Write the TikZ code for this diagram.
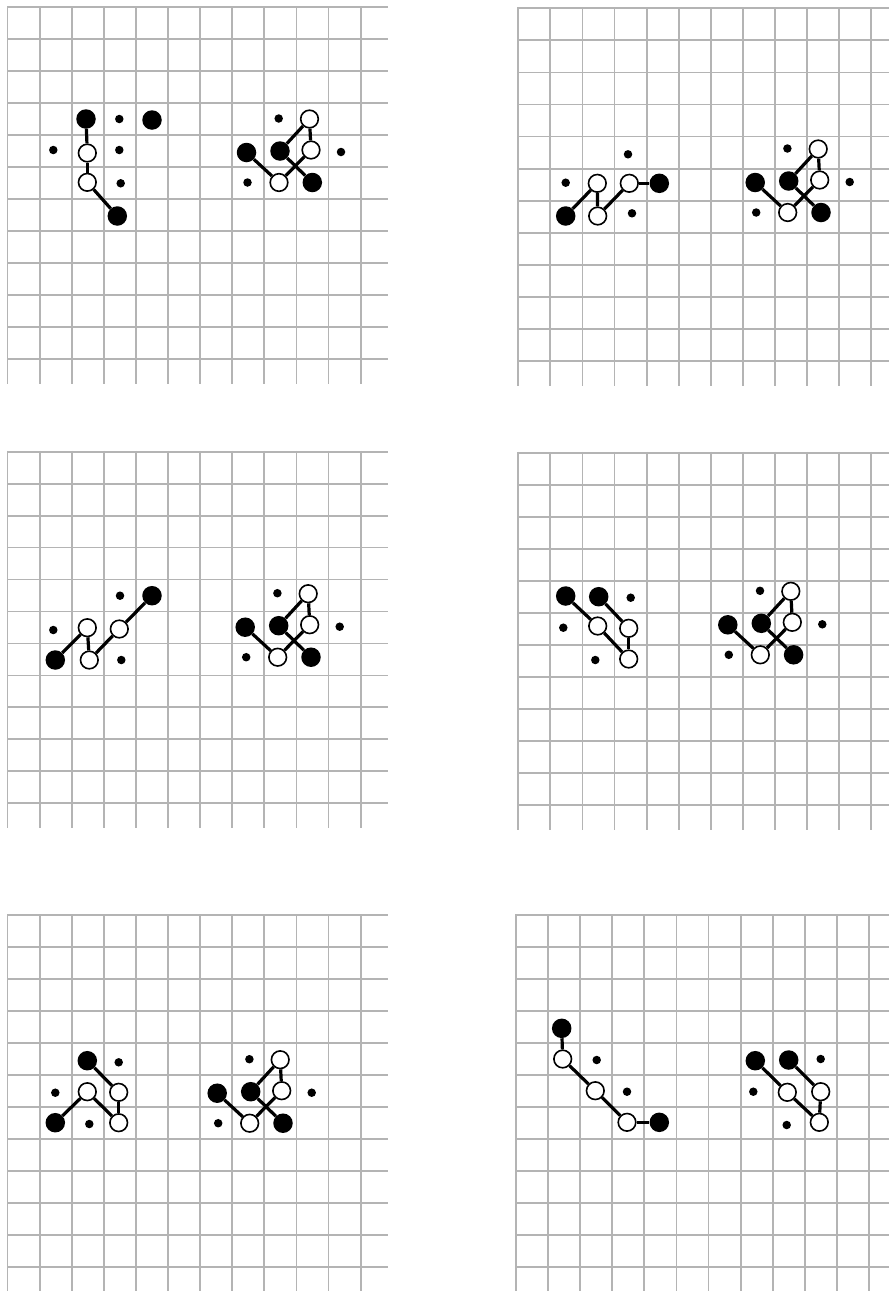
\documentclass[tikz,border=0pt]{standalone}
\definecolor{gridgray}{RGB}{180,180,180}
\newcommand\gridpanel[6]{%
  \foreach \i in {0,...,11} \draw[gline] ({#1+\i*#3},{#2-0.9}) -- ({#1+\i*#3},#6);
  \foreach \j in {0,...,11} \draw[gline] (#1,{#2+\j*#4}) -- (#5,{#2+\j*#4});
}
\tikzset{
  bk/.style={circle, fill=black, inner sep=0pt, minimum size=19.5pt},
  wh/.style={circle, draw=black, fill=white, line width=1.6pt, inner sep=0pt, minimum size=17.6pt},
  sd/.style={circle, fill=black, inner sep=0pt, minimum size=8.5pt},
  conn/.style={line width=3.2pt, draw=black},
  gline/.style={line width=1.8pt, draw=gridgray},
  rcl/.pic={
    \node[sd] (-d1) at (-1.3,-32.5) {};
    \node[wh] (-wt) at (29.5,-32) {};
    \node[bk] (-bl) at (-33.5,1.5) {};
    \node[bk] (-bm) at (0,0) {};
    \node[wh] (-wm) at (31,-1) {};
    \node[sd] (-dr) at (61,1) {};
    \node[sd] (-db) at (-32.5,31.5) {};
    \node[wh] (-wb) at (-1,31.5) {};
    \node[bk] (-bb) at (32.3,31.5) {};
    \draw[conn] (-bm) -- (-wt);
    \draw[conn] (-wt) -- (-wm);
    \draw[conn] (-bl) -- (-wb);
    \draw[conn] (-wb) -- (-wm);
    \draw[conn] (-bm) -- (-bb);
  }
}
\begin{document}
\begin{tikzpicture}[x=1pt,y=-1pt]
\useasboundingbox[fill=white] (0,0) rectangle (889,1291);

% grids
\gridpanel{7.5}{7}{32.1}{32.03}{387.5}{383.5}
\gridpanel{518.3}{8.3}{32.09}{32.06}{889}{385.5}
\gridpanel{7.5}{451.7}{32.1}{31.96}{387.5}{828}
\gridpanel{518.3}{452.7}{32.09}{32.0}{889}{830}
\gridpanel{7.5}{915}{32.1}{32.03}{387.5}{1291}
\gridpanel{516}{915}{32.09}{32.03}{889}{1291}

% panel 1, left cluster
\node[bk] (p1a) at (86,119) {};
\node[sd] (p1b) at (119.3,119) {};
\node[bk] (p1c) at (152,120) {};
\node[sd] (p1d) at (53.3,150) {};
\node[wh] (p1e) at (87.3,153) {};
\node[sd] (p1f) at (119.3,150) {};
\node[wh] (p1g) at (87.3,182.3) {};
\node[sd] (p1h) at (120.7,183.3) {};
\node[bk] (p1i) at (117.3,216) {};
\draw[conn] (p1a) -- (p1e);
\draw[conn] (p1e) -- (p1g);
\draw[conn] (p1g) -- (p1i);
\pic (p1r) at (280,151) {rcl};

% panel 2
\node[sd] (p2a) at (565.7,182.7) {};
\node[wh] (p2b) at (597.3,183.3) {};
\node[sd] (p2c) at (628,154.3) {};
\node[wh] (p2d) at (629.3,183.3) {};
\node[bk] (p2e) at (659.3,183.3) {};
\node[bk] (p2f) at (565.7,216) {};
\node[wh] (p2g) at (597.7,216) {};
\node[sd] (p2h) at (632,213.3) {};
\draw[conn] (p2f) -- (p2b);
\draw[conn] (p2b) -- (p2g);
\draw[conn] (p2g) -- (p2d);
\draw[conn] (p2d) -- (p2e);
\pic (p2r) at (788.7,181) {rcl};

% panel 3
\node[sd] (p3a) at (120,595.7) {};
\node[bk] (p3b) at (152,595.7) {};
\node[sd] (p3c) at (53.3,630) {};
\node[wh] (p3d) at (87.3,627.7) {};
\node[wh] (p3e) at (119.3,629) {};
\node[bk] (p3f) at (55.3,660) {};
\node[wh] (p3g) at (89.3,660) {};
\node[sd] (p3h) at (121.3,660) {};
\draw[conn] (p3f) -- (p3d);
\draw[conn] (p3d) -- (p3g);
\draw[conn] (p3g) -- (p3e);
\draw[conn] (p3e) -- (p3b);
\pic (p3r) at (278.7,625.7) {rcl};

% panel 4
\node[bk] (p4a) at (565.7,596) {};
\node[bk] (p4b) at (598.7,596.7) {};
\node[sd] (p4c) at (630.7,597.7) {};
\node[sd] (p4d) at (563.3,627.7) {};
\node[wh] (p4e) at (597.7,626) {};
\node[wh] (p4f) at (628.7,628.3) {};
\node[sd] (p4g) at (595.3,660) {};
\node[wh] (p4h) at (628.7,659) {};
\draw[conn] (p4a) -- (p4e);
\draw[conn] (p4b) -- (p4f);
\draw[conn] (p4e) -- (p4h);
\draw[conn] (p4f) -- (p4h);
\pic (p4r) at (761.3,623.3) {rcl};

% panel 5
\node[bk] (p5a) at (87.3,1060.7) {};
\node[sd] (p5b) at (118.7,1062.3) {};
\node[sd] (p5c) at (55.3,1092.7) {};
\node[wh] (p5d) at (87.3,1091.7) {};
\node[wh] (p5e) at (118.7,1092.3) {};
\node[bk] (p5f) at (55.3,1122.7) {};
\node[sd] (p5g) at (89.3,1124) {};
\node[wh] (p5h) at (118.7,1122.7) {};
\draw[conn] (p5f) -- (p5d);
\draw[conn] (p5d) -- (p5h);
\draw[conn] (p5a) -- (p5e);
\draw[conn] (p5e) -- (p5h);
\pic (p5r) at (250.7,1091.7) {rcl};

% panel 6, left cluster
\node[bk] (p6a) at (561.7,1028.3) {};
\node[wh] (p6b) at (562.7,1059) {};
\node[sd] (p6c) at (596.7,1060) {};
\node[wh] (p6d) at (595.3,1090.7) {};
\node[sd] (p6e) at (627,1091.7) {};
\node[wh] (p6f) at (627,1122.3) {};
\node[bk] (p6g) at (659.3,1122.3) {};
\draw[conn] (p6a) -- (p6b);
\draw[conn] (p6b) -- (p6d);
\draw[conn] (p6d) -- (p6f);
\draw[conn] (p6f) -- (p6g);

% panel 6, right cluster
\node[bk] (p6h) at (755.3,1060.7) {};
\node[bk] (p6i) at (788.7,1060) {};
\node[sd] (p6j) at (820.7,1059) {};
\node[sd] (p6k) at (753.3,1091.7) {};
\node[wh] (p6l) at (787.3,1092.3) {};
\node[wh] (p6m) at (820.7,1091.7) {};
\node[sd] (p6n) at (786.7,1125) {};
\node[wh] (p6o) at (819.3,1122.3) {};
\draw[conn] (p6h) -- (p6l);
\draw[conn] (p6i) -- (p6m);
\draw[conn] (p6l) -- (p6o);
\draw[conn] (p6m) -- (p6o);
\end{tikzpicture}
\end{document}
